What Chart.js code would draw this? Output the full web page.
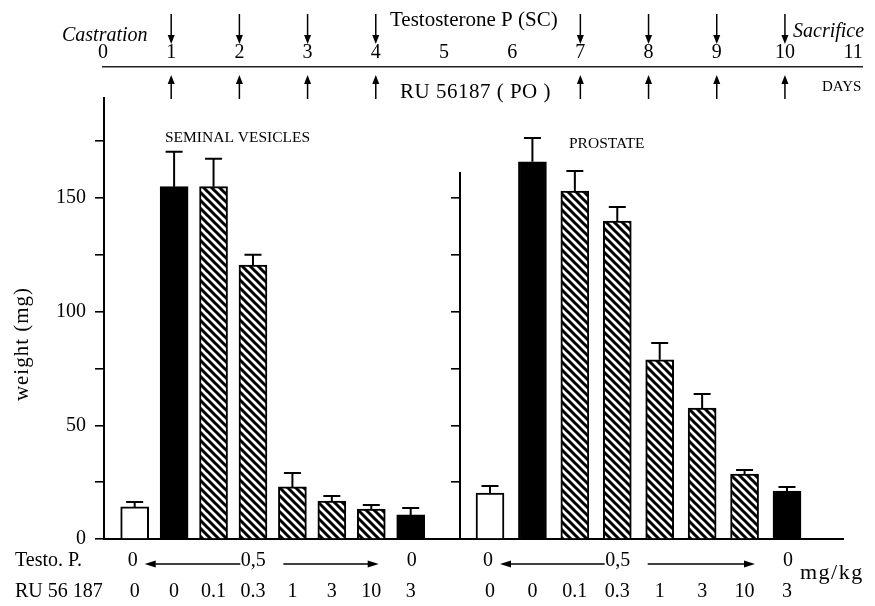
<!DOCTYPE html>
<html>
<head>
<meta charset="utf-8">
<script src="https://cdn.jsdelivr.net/npm/chart.js@4"></script>
<style>
  html, body { margin: 0; background: #fff; }
  #wrap { position: relative; width: 875px; height: 606px; overflow: hidden; }
  canvas { position: absolute; top: 0; }
</style>
</head>
<body>
<div id="wrap">
  <canvas id="days" width="875" height="110" style="left:0"></canvas>
  <canvas id="sv" width="460" height="606" style="left:0"></canvas>
  <canvas id="pr" width="435" height="606" style="left:440px"></canvas>
</div>
<script>
/* ── DATA ─────────────────────────────────────────────────── */
const dayTicks    = [0, 1, 2, 3, 4, 5, 6, 7, 8, 9, 10, 11];
const testoDays   = [1, 2, 3, 4, 7, 8, 9, 10];
const ruDays      = [1, 2, 3, 4, 7, 8, 9, 10];
const ruDoses     = ['0', '0', '0.1', '0.3', '1', '3', '10', '3'];
const testoDoses  = ['0', '0,5', '0'];
const vesicles    = [14.1, 155, 155, 120.5, 22.9, 16.7, 13.2, 10.6];
const vesiclesSem = [2.2, 15.3, 12.3, 4.5, 6.1, 2.2, 1.8, 3.0];
const prostate    = [20.2, 165.9, 153.1, 139.9, 78.8, 57.6, 28.6, 21.1];
const prostateSem = [3.1, 10.5, 8.8, 6.1, 7.4, 6.2, 1.8, 1.8];
const weightTicks  = [0, 25, 50, 75, 100, 125, 150, 175];
const weightLabels = [0, 50, 100, 150];

/* ── STYLE ────────────────────────────────────────────────── */
const SERIF = '"Liberation Serif", "Times New Roman", serif';

function hatch() {
  const c = document.createElement('canvas');
  c.width = c.height = 8;
  const g = c.getContext('2d');
  g.fillStyle = '#fff';
  g.fillRect(0, 0, 8, 8);
  g.strokeStyle = '#000';
  g.lineWidth = 3;
  g.beginPath();
  g.moveTo(-2, -2); g.lineTo(10, 10);
  g.moveTo(-2, 6);  g.lineTo(2, 10);
  g.moveTo(6, -2);  g.lineTo(10, 2);
  g.stroke();
  return g.createPattern(c, 'repeat');
}
const HATCH = hatch();
// white control, black testo-only, hatched testo+RU, black RU-only
const barFill = ['#fff', '#000', HATCH, HATCH, HATCH, HATCH, HATCH, '#000'];

function vArrow(ctx, x, from, to) {
  const d = Math.sign(to - from);
  ctx.beginPath(); ctx.moveTo(x, from); ctx.lineTo(x, to - d * 5); ctx.stroke();
  ctx.beginPath(); ctx.moveTo(x, to); ctx.lineTo(x - 3.5, to - d * 9); ctx.lineTo(x + 3.5, to - d * 9);
  ctx.closePath(); ctx.fill();
}
function hArrow(ctx, from, to, y) {
  const d = Math.sign(to - from);
  ctx.beginPath(); ctx.moveTo(from, y); ctx.lineTo(to - d * 5, y); ctx.stroke();
  ctx.beginPath(); ctx.moveTo(to, y); ctx.lineTo(to - d * 11, y - 3.5); ctx.lineTo(to - d * 11, y + 3.5);
  ctx.closePath(); ctx.fill();
}
function text(ctx, str, x, y, font, align = 'left', base = 'alphabetic', spacing = '0px') {
  ctx.save();
  ctx.font = font;
  ctx.letterSpacing = spacing;
  ctx.textAlign = align;
  ctx.textBaseline = base;
  ctx.fillStyle = '#000';
  ctx.fillText(str, x, y);
  ctx.restore();
}

/* ── ERROR BARS ───────────────────────────────────────────── */
const errorBars = sem => ({
  id: 'errorBars',
  afterDatasetsDraw(chart) {
    const { ctx, scales: { y } } = chart;
    const ds = chart.data.datasets[0];
    ctx.save();
    ctx.strokeStyle = '#000';
    ctx.lineWidth = 2;
    chart.getDatasetMeta(0).data.forEach((bar, i) => {
      const top = y.getPixelForValue(ds.data[i].y + sem[i]);
      ctx.beginPath();
      ctx.moveTo(bar.x, bar.y); ctx.lineTo(bar.x, top);
      ctx.moveTo(bar.x - 8.5, top); ctx.lineTo(bar.x + 8.5, top);
      ctx.stroke();
    });
    ctx.restore();
  }
});

/* ── "Testo. P." ROW UNDER A PANEL ────────────────────────── */
function testoRow(chart) {
  const { ctx, scales: { x } } = chart;
  const x0 = x.getPixelForValue(0), x7 = x.getPixelForValue(7);
  const mid = x0 + 0.43 * (x7 - x0);
  const y = 561;
  const f = '20px ' + SERIF;
  text(ctx, testoDoses[0], x0 - 2, y, f, 'center', 'middle');
  text(ctx, testoDoses[1], mid, y, f, 'center', 'middle');
  text(ctx, testoDoses[2], x7 + 1, y, f, 'center', 'middle');
  ctx.save();
  ctx.strokeStyle = ctx.fillStyle = '#000';
  ctx.lineWidth = 1.5;
  hArrow(ctx, mid - 13, x0 + 10, y + 3);
  hArrow(ctx, mid + 30, x7 - 32, y + 3);
  ctx.restore();
}

/* ── PANELS ───────────────────────────────────────────────── */
function makePanel(id, values, sem, cfg) {
  return new Chart(document.getElementById(id), {
    type: 'bar',
    data: {
      datasets: [{
        data: values.map((v, i) => ({ x: i, y: v })),
        backgroundColor: barFill,
        borderColor: '#000',
        borderWidth: 2,
        barThickness: 28,
        clip: false,
      }],
    },
    options: {
      responsive: false,
      animation: false,
      layout: { padding: cfg.padding },
      plugins: { legend: { display: false }, tooltip: { enabled: false } },
      scales: {
        x: {
          type: 'linear', min: cfg.xMin, max: cfg.xMax, offset: false,
          afterBuildTicks: s => { s.ticks = ruDoses.map((_, i) => ({ value: i })); },
          afterFit: s => { s.height = 67; },
          ticks: {
            callback: v => ruDoses[v], autoSkip: false, maxRotation: 0, padding: 41,
            color: '#000', font: { family: SERIF, size: 20 },
          },
          grid: { display: false, drawTicks: false, offset: false },
          border: { color: '#000', width: 2 },
        },
        y: {
          min: 0, max: cfg.yMax,
          afterBuildTicks: s => { s.ticks = weightTicks.filter(v => v <= cfg.yMax).map(v => ({ value: v })); },
          afterFit: s => { s.width = cfg.axisWidth; },
          ticks: {
            display: cfg.labels, padding: 9,
            callback: v => weightLabels.includes(v) ? v : '',
            color: '#000', font: { family: SERIF, size: 20 },
          },
          grid: { drawOnChartArea: false, tickLength: 9, color: '#000', lineWidth: 1.6 },
          border: { color: '#000', width: 2 },
        },
      },
    },
    plugins: [errorBars(sem), { id: 'extras', afterDraw: cfg.extras }],
  });
}

// same px per mg in both panels: 441/194 = 366/161
makePanel('sv', vesicles, vesiclesSem, {
  padding: { top: 98, left: 0, right: 0, bottom: 0 },
  xMin: -0.778, xMax: 8.25, yMax: 194, axisWidth: 104, labels: true,
  extras(chart) {
    const { ctx } = chart;
    text(ctx, 'SEMINAL VESICLES', 165, 142, '15.5px ' + SERIF);
    ctx.save();
    ctx.translate(22, 344);
    ctx.rotate(-Math.PI / 2);
    text(ctx, 'weight (mg)', 0, 0, '21px ' + SERIF, 'center', 'middle', '1px');
    ctx.restore();
    text(ctx, 'Testo. P.', 15, 561, '20px ' + SERIF, 'left', 'middle');
    text(ctx, 'RU 56 187', 15, 592, '20px ' + SERIF, 'left', 'middle');
    testoRow(chart);
  },
});

makePanel('pr', prostate, prostateSem, {
  padding: { top: 173, left: 0, right: 32, bottom: 0 },
  xMin: -0.707, xMax: 8.32, yMax: 161, axisWidth: 20, labels: false,
  extras(chart) {
    const { ctx } = chart;
    text(ctx, 'PROSTATE', 129, 148, '15.5px ' + SERIF);
    text(ctx, 'mg/kg', 360, 573, '22px ' + SERIF, 'left', 'middle', '1.5px');
    testoRow(chart);
  },
});

/* ── TIMELINE ─────────────────────────────────────────────── */
new Chart(document.getElementById('days'), {
  type: 'scatter',
  data: { datasets: [] },
  options: {
    responsive: false,
    animation: false,
    layout: { padding: { left: 103, right: 13, top: 0, bottom: 0 } },
    plugins: { legend: { display: false }, tooltip: { enabled: false } },
    scales: {
      x: {
        type: 'linear', position: 'top', min: 0, max: 11.13,
        afterBuildTicks: s => { s.ticks = dayTicks.map(v => ({ value: v })); },
        afterFit: s => { s.height = 67; },
        ticks: { padding: 2, autoSkip: false, maxRotation: 0, color: '#000', font: { family: SERIF, size: 20 } },
        grid: { display: false, drawTicks: false },
        border: { color: '#222', width: 1.5, dash: [8, 1.5] },
      },
      y: { display: false, min: 0, max: 1 },
    },
  },
  plugins: [{
    id: 'timeline',
    afterDraw(chart) {
      const { ctx, scales: { x } } = chart;
      ctx.save();
      ctx.strokeStyle = ctx.fillStyle = '#000';
      ctx.lineWidth = 1.5;
      testoDays.forEach(d => vArrow(ctx, x.getPixelForValue(d), 14, 44));
      ruDays.forEach(d => vArrow(ctx, x.getPixelForValue(d), 99, 75));
      ctx.restore();
      text(ctx, 'Castration', 62, 41, 'italic 20px ' + SERIF);
      text(ctx, 'Testosterone P (SC)', 390, 26, '21px ' + SERIF);
      text(ctx, 'Sacrifice', 793, 37, 'italic 20px ' + SERIF);
      text(ctx, 'DAYS', 822, 91, '15px ' + SERIF);
      text(ctx, 'RU 56187 ( PO )', 400, 98, '21px ' + SERIF, 'left', 'alphabetic', '0.5px');
    },
  }],
});
</script>
</body>
</html>
